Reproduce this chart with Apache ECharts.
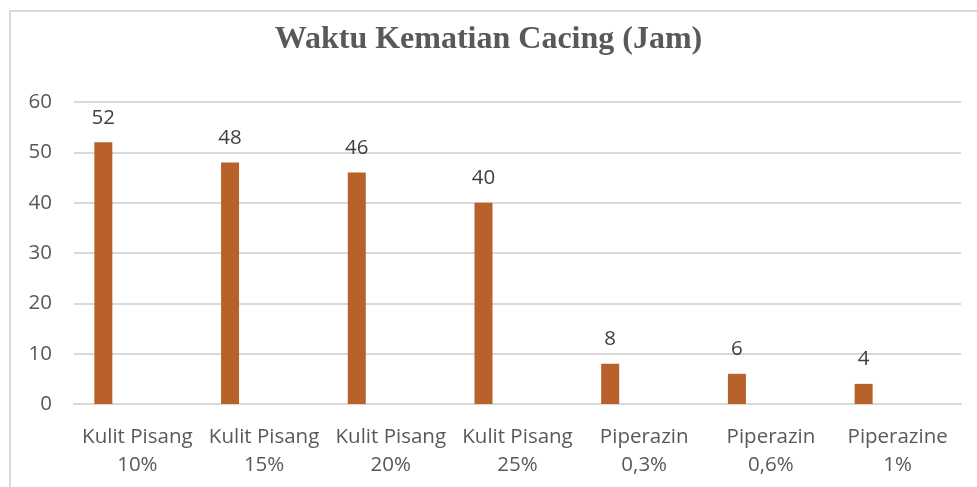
<!DOCTYPE html>
<html>
<head>
<meta charset="utf-8">
<script src="https://cdn.jsdelivr.net/npm/echarts@6/dist/echarts.min.js"></script>
<style>
html,body{margin:0;padding:0;background:#fff;}
#chart{width:977px;height:487px;}
</style>
</head>
<body>
<div id="chart"></div>
<script>
var titleText = 'Waktu Kematian Cacing (Jam)';
var categories = ['Kulit Pisang\n10%', 'Kulit Pisang\n15%', 'Kulit Pisang\n20%', 'Kulit Pisang\n25%', 'Piperazin\n0,3%', 'Piperazin\n0,6%', 'Piperazine\n1%'];
var values = [52, 48, 46, 40, 8, 6, 4];
var emptySeries = ['-', '-', '-', '-', '-', '-', '-'];
var yMin = 0, yMax = 60, yInterval = 10;

var chart = echarts.init(document.getElementById('chart'), null, {renderer: 'canvas'});
var textColor = '#595959';
var font = '"Open Sans", "Noto Sans", sans-serif';
chart.setOption({
  animation: false,
  backgroundColor: '#ffffff',
  title: {
    text: titleText,
    left: 'center',
    top: 19,
    textStyle: {fontFamily: '"Liberation Serif", "Times New Roman", serif', fontWeight: 'bold', fontSize: 32, color: textColor}
  },
  graphic: [{
    type: 'rect',
    shape: {x: 10, y: 11, width: 1000, height: 520},
    style: {fill: 'none', stroke: '#d9d9d9', lineWidth: 2},
    silent: true
  }],
  grid: {left: 74, right: 16, top: 102, bottom: 83, containLabel: false},
  xAxis: {
    type: 'category',
    data: categories,
    axisTick: {show: false},
    axisLine: {show: true, lineStyle: {color: '#d9d9d9', width: 2}},
    axisLabel: {color: textColor, fontFamily: font, fontSize: 20.5, lineHeight: 28, margin: 19, interval: 0}
  },
  yAxis: {
    type: 'value',
    min: yMin, max: yMax, interval: yInterval,
    axisLine: {show: false},
    axisTick: {show: false},
    splitLine: {lineStyle: {color: '#d9d9d9', width: 2}},
    axisLabel: {color: textColor, fontFamily: font, fontSize: 20.5, margin: 22}
  },
  series: [{
    type: 'bar',
    data: values,
    barWidth: 18,
    itemStyle: {color: '#B9612A'},
    label: {show: true, position: 'top', distance: 14, color: '#404040', fontFamily: font, fontSize: 20.5}
  }, {
    type: 'bar',
    data: emptySeries,
    barWidth: 18,
    barGap: '278%',
    itemStyle: {color: '#7f7f7f'}
  }]
});
</script>
</body>
</html>
